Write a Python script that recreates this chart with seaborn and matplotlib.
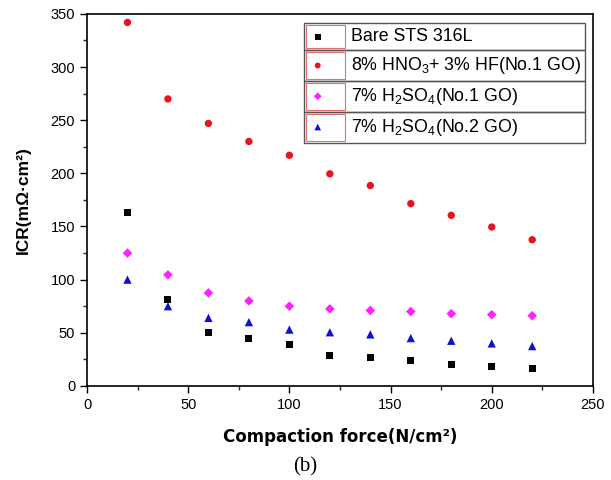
import matplotlib
matplotlib.use('agg')
import numpy as np
import pandas as pd
import matplotlib.pyplot as plt
import seaborn as sns
from matplotlib.patches import Rectangle
from matplotlib.ticker import MultipleLocator

# compaction force (N/cm2)
force = [20, 40, 60, 80, 100, 120, 140, 160, 180, 200, 220]

# ICR values (mOhm cm2)
bare = [163, 81, 50.5, 44.5, 39, 29, 27, 23.5, 20.5, 18.5, 16]
hno3_hf = [342, 270, 247, 230, 217, 199.5, 188.5, 171.5, 160.5, 149.5, 137.5]
h2so4_go1 = [125, 104.5, 87.5, 80, 75, 72.5, 71, 70, 68, 67, 66]
h2so4_go2 = [100, 75, 64, 60, 53, 50.5, 48.5, 45, 42.5, 40, 37.5]

labels = ["Bare STS 316L",
          "8% HNO$_3$+ 3% HF(No.1 GO)",
          "7% H$_2$SO$_4$(No.1 GO)",
          "7% H$_2$SO$_4$(No.2 GO)"]
series = [bare, hno3_hf, h2so4_go1, h2so4_go2]

df = pd.concat([pd.DataFrame({"force": force, "icr": v, "sample": lab})
                for lab, v in zip(labels, series)], ignore_index=True)

sns.set_style("ticks")
plt.rcParams['font.family'] = ['Liberation Sans', 'DejaVu Sans']
plt.rcParams['mathtext.fontset'] = 'custom'
plt.rcParams['mathtext.rm'] = 'Liberation Sans'
plt.rcParams['mathtext.it'] = 'Liberation Sans'
plt.rcParams['text.color'] = 'black'
plt.rcParams['axes.labelcolor'] = 'black'

colors = dict(zip(labels, ["black", "#e8141c", "#ff22ff", "#1010d0"]))
marks = dict(zip(labels, ["s", "o", "D", "^"]))
sizes = {labels[0]: 26, labels[1]: 28, labels[2]: 24, labels[3]: 36}

fig = plt.figure(figsize=(6.11, 4.8), dpi=100)
ax = fig.add_axes([0.1424, 0.196, 0.828, 0.775])

for lab in labels:
    sub = df[df["sample"] == lab]
    sns.scatterplot(data=sub, x="force", y="icr", color=colors[lab],
                    marker=marks[lab], s=sizes[lab], edgecolor='none',
                    label=lab, ax=ax)

ax.set_xlim(0, 250)
ax.set_ylim(0, 350)
ax.xaxis.set_major_locator(MultipleLocator(50))
ax.xaxis.set_minor_locator(MultipleLocator(25))
ax.yaxis.set_major_locator(MultipleLocator(50))
ax.yaxis.set_minor_locator(MultipleLocator(25))
ax.tick_params(which='major', direction='out', length=5, width=1, labelsize=10.5, colors='black')
ax.tick_params(which='minor', direction='out', length=3, width=1)
for sp in ax.spines.values():
    sp.set_linewidth(1.2)
    sp.set_color('black')

ax.set_xlabel("Compaction force(N/cm²)", fontsize=12, fontweight='bold',
              family='DejaVu Sans', labelpad=12, color='black')
ax.set_ylabel("ICR(mΩ·cm²)", fontsize=12.5, fontweight='bold', labelpad=14, color='black')

leg = ax.legend(loc='upper right', bbox_to_anchor=(0.995, 0.985), frameon=False,
                fontsize=12.8, handlelength=1.2, handletextpad=1.3,
                labelspacing=0.55, borderpad=0.3, borderaxespad=0.2, markerscale=0.8)

# boxed rows like the original legend
fig.canvas.draw()
r = fig.canvas.get_renderer()
lb = leg.get_window_extent(r)
inv = fig.transFigure.inverted()
for txt, h in zip(leg.get_texts(), leg.legend_handles):
    tb = txt.get_window_extent(r)
    y0 = tb.y0 - 5
    y1 = tb.y1 + 5
    x0, x1 = lb.x0 + 2, lb.x1 - 2
    (fx0, fy0) = inv.transform((x0, y0))
    (fx1, fy1) = inv.transform((x1, y1))
    fig.add_artist(Rectangle((fx0, fy0), fx1 - fx0, fy1 - fy0, transform=fig.transFigure,
                             fill=False, edgecolor='#555555', lw=1.0))
    (hx1, _) = inv.transform((tb.x0 - 6, 0))
    fig.add_artist(Rectangle((fx0 + 0.003, fy0 + 0.004), hx1 - fx0 - 0.003, fy1 - fy0 - 0.008,
                             transform=fig.transFigure, fill=False,
                             edgecolor='#e07070', lw=0.8))

fig.text(0.5, 0.027, "(b)", fontsize=15, family='Liberation Serif', ha='center', va='center')

fig.savefig("out.png", dpi=100)
